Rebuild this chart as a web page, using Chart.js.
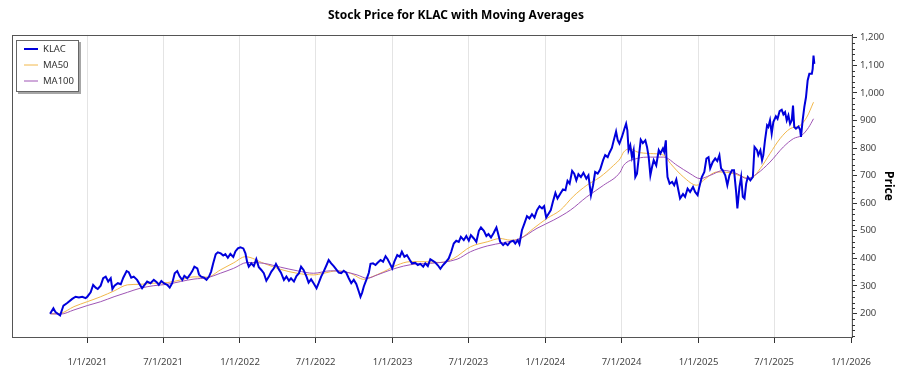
<!DOCTYPE html>
<html>
  <head>
    <meta charset="utf-8">
    <script src="https://cdn.jsdelivr.net/npm/chart.js@4.4.1/dist/chart.umd.min.js"></script>
  </head>

  <style>
    html, body {
        margin: 0;
        padding: 0;
        background: white;
    }
    #chart-box {
        width: 900px;
        height: 375px;
    }
  </style>

  <body>
    <div id="chart-box"><canvas id="klac-chart" width="900" height="375"></canvas></div>

<script>

  // KLAC close (roughly weekly)
  const klacDates = [
      "2020-10-04","2020-10-12","2020-10-17","2020-10-28","2020-11-05","2020-11-14","2020-11-26","2020-12-04","2020-12-12","2020-12-20","2020-12-28",
      "2021-01-01","2021-01-09","2021-01-15","2021-01-21","2021-01-26","2021-02-02","2021-02-08","2021-02-14","2021-02-20","2021-02-26",
      "2021-03-02","2021-03-07","2021-03-15","2021-03-22","2021-03-28","2021-04-05","2021-04-10","2021-04-16","2021-04-22","2021-04-30",
      "2021-05-07","2021-05-12","2021-05-18","2021-05-24","2021-06-01","2021-06-09","2021-06-16","2021-06-21","2021-06-27","2021-07-03",
      "2021-07-11","2021-07-17","2021-07-23","2021-07-29","2021-08-04","2021-08-10","2021-08-16","2021-08-21","2021-08-28","2021-09-03",
      "2021-09-09","2021-09-14","2021-09-21","2021-09-25","2021-09-30","2021-10-07","2021-10-13","2021-10-19","2021-10-24","2021-10-29",
      "2021-11-04","2021-11-09","2021-11-16","2021-11-22","2021-11-27","2021-12-03","2021-12-09","2021-12-16","2021-12-21","2021-12-27",
      "2022-01-02","2022-01-09","2022-01-14","2022-01-18","2022-01-22","2022-01-28","2022-02-03","2022-02-09","2022-02-15","2022-02-21",
      "2022-02-27","2022-03-05","2022-03-11","2022-03-17","2022-03-23","2022-03-28","2022-04-04","2022-04-09","2022-04-16","2022-04-22",
      "2022-04-28","2022-05-03","2022-05-10","2022-05-16","2022-05-22","2022-05-27","2022-06-02","2022-06-09","2022-06-14","2022-06-20",
      "2022-06-26","2022-07-03","2022-07-08","2022-07-14","2022-07-20","2022-07-27","2022-08-01","2022-08-07","2022-08-13","2022-08-20",
      "2022-08-25","2022-08-31","2022-09-06","2022-09-12","2022-09-18","2022-09-24","2022-09-30","2022-10-06","2022-10-12","2022-10-16",
      "2022-10-20","2022-10-24","2022-10-30","2022-11-05","2022-11-09","2022-11-15","2022-11-21","2022-11-26","2022-12-03","2022-12-09",
      "2022-12-15","2022-12-20","2022-12-25","2022-12-31","2023-01-05","2023-01-12","2023-01-18","2023-01-23","2023-01-29","2023-02-04",
      "2023-02-11","2023-02-16","2023-02-24","2023-03-02","2023-03-08","2023-03-15","2023-03-20","2023-03-26","2023-04-01","2023-04-08",
      "2023-04-13","2023-04-19","2023-04-25","2023-05-01","2023-05-07","2023-05-15","2023-05-21","2023-05-27","2023-06-02","2023-06-08",
      "2023-06-13","2023-06-20","2023-06-26","2023-07-02","2023-07-07","2023-07-14","2023-07-20","2023-07-26","2023-07-31","2023-08-07",
      "2023-08-13","2023-08-18","2023-08-24","2023-08-30","2023-09-06","2023-09-09","2023-09-15","2023-09-22","2023-09-27","2023-10-03",
      "2023-10-09","2023-10-16","2023-10-21","2023-10-27","2023-10-31","2023-11-06","2023-11-12","2023-11-18","2023-11-24","2023-11-30",
      "2023-12-06","2023-12-12","2023-12-18","2023-12-24","2023-12-29","2024-01-03","2024-01-09","2024-01-14","2024-01-19","2024-01-25",
      "2024-01-30","2024-02-06","2024-02-12","2024-02-18","2024-02-23","2024-02-28","2024-03-05","2024-03-10","2024-03-15","2024-03-20",
      "2024-03-26","2024-04-01","2024-04-08","2024-04-13","2024-04-19","2024-04-24","2024-04-29","2024-05-05","2024-05-11","2024-05-18",
      "2024-05-23","2024-05-29","2024-06-02","2024-06-08","2024-06-12","2024-06-18","2024-06-22","2024-06-26","2024-07-02","2024-07-08",
      "2024-07-12","2024-07-15","2024-07-18","2024-07-22","2024-07-26","2024-07-30","2024-08-03","2024-08-07","2024-08-11","2024-08-16",
      "2024-08-21","2024-08-27","2024-08-31","2024-09-04","2024-09-08","2024-09-12","2024-09-16","2024-09-22","2024-09-28","2024-10-02",
      "2024-10-08","2024-10-11","2024-10-15","2024-10-17","2024-10-19","2024-10-24","2024-10-30","2024-11-04","2024-11-09","2024-11-14",
      "2024-11-18","2024-11-25","2024-11-30","2024-12-06","2024-12-12","2024-12-19","2024-12-24","2024-12-30","2025-01-03","2025-01-09",
      "2025-01-15","2025-01-20","2025-01-25","2025-01-29","2025-02-04","2025-02-10","2025-02-15","2025-02-20","2025-02-24","2025-02-28",
      "2025-03-06","2025-03-11","2025-03-16","2025-03-22","2025-03-27","2025-04-01","2025-04-04","2025-04-09","2025-04-13","2025-04-17",
      "2025-04-21","2025-04-25","2025-04-29","2025-05-05","2025-05-11","2025-05-15","2025-05-21","2025-05-24","2025-05-29","2025-06-02",
      "2025-06-05","2025-06-09","2025-06-14","2025-06-17","2025-06-21","2025-06-25","2025-06-29","2025-07-05","2025-07-09","2025-07-14",
      "2025-07-19","2025-07-23","2025-07-27","2025-07-31","2025-08-04","2025-08-08","2025-08-12","2025-08-15","2025-08-18","2025-08-22",
      "2025-08-28","2025-09-01","2025-09-03","2025-09-07","2025-09-11","2025-09-15","2025-09-19","2025-09-23","2025-09-29","2025-10-01",
      "2025-10-03","2025-10-05"
  ];
  const klacValues = [
      199,219,205,193,229,238,253,261,258,261,256,
      261,277,304,294,289,301,328,334,316,328,
      289,301,310,306,330,354,350,330,334,322,
      304,292,304,316,310,322,314,304,318,310,
      304,294,310,346,354,334,322,337,328,340,
      354,370,364,342,334,330,322,334,352,382,
      415,422,418,410,415,402,416,405,425,436,
      440,436,418,388,370,382,372,397,368,358,
      346,319,334,352,364,380,360,348,322,334,
      319,328,316,336,346,370,358,334,312,324,
      310,292,310,334,352,376,394,382,372,358,
      348,346,355,348,328,310,322,307,280,261,
      276,298,322,348,380,382,376,384,394,388,
      408,397,382,364,388,412,406,424,406,412,
      394,382,384,376,380,370,382,372,397,390,
      385,375,362,375,385,400,424,454,464,460,
      478,466,481,464,484,472,460,500,512,500,
      481,488,476,491,512,496,460,448,456,448,
      460,464,454,466,452,502,527,553,545,560,
      548,575,589,581,589,548,563,575,605,637,
      617,635,650,647,681,671,717,707,683,705,
      695,710,689,701,629,665,713,707,722,756,
      774,767,782,800,825,860,828,816,840,870,
      888,864,792,810,767,792,695,707,762,830,
      818,828,804,767,701,731,756,737,792,780,
      798,786,828,740,695,671,677,665,686,647,
      617,633,623,653,641,659,641,629,659,695,
      713,762,767,726,749,762,753,774,726,719,
      701,665,701,719,719,641,581,659,695,623,
      617,671,695,683,695,804,792,774,792,756,
      774,828,882,876,900,852,894,915,906,934,
      939,922,930,900,918,888,900,954,876,870,
      878,866,840,900,948,984,1045,1069,1069,1087,
      1135,1105
  ];

  const ma50Dates = [
      "2020-10-05","2020-10-29","2020-11-30","2021-01-01","2021-02-02","2021-03-06","2021-04-07","2021-05-08","2021-06-09","2021-07-11",
      "2021-08-12","2021-09-13","2021-10-15","2021-11-15","2021-12-17","2022-01-14","2022-02-27","2022-04-08","2022-05-18","2022-06-26",
      "2022-07-20","2022-08-21","2022-09-22","2022-10-24","2022-11-09","2022-12-11","2023-01-12","2023-02-12","2023-03-17","2023-04-25",
      "2023-05-27","2023-07-06","2023-08-15","2023-09-15","2023-10-09","2023-11-02","2023-12-04","2024-01-05","2024-02-06","2024-03-08",
      "2024-04-09","2024-05-11","2024-06-12","2024-06-28","2024-07-06","2024-07-22","2024-08-07","2024-09-08","2024-10-10","2024-10-26",
      "2024-11-26","2024-12-28","2025-01-13","2025-02-14","2025-03-18","2025-04-19","2025-05-05","2025-05-29","2025-06-21","2025-07-15",
      "2025-08-08","2025-09-01","2025-09-17","2025-10-03"
  ];
  const ma50Values = [
      199,201,225,243,261,282,304,306,310,312,
      322,333,332,358,384,406,382,360,346,340,
      346,355,346,324,331,352,376,388,388,385,
      400,442,460,472,466,472,509,545,575,625,
      665,695,737,762,785,798,786,780,774,744,
      695,665,683,713,710,695,689,726,780,834,
      870,882,912,966
  ];

  const ma100Dates = [
      "2020-10-05","2020-10-29","2020-11-30","2021-01-01","2021-02-02","2021-03-06","2021-04-07","2021-05-08","2021-06-09","2021-07-11",
      "2021-08-12","2021-09-13","2021-10-15","2021-11-15","2021-12-17","2022-01-18","2022-02-27","2022-04-08","2022-05-18","2022-06-26",
      "2022-08-05","2022-09-06","2022-10-08","2022-11-01","2022-11-25","2022-12-27","2023-01-27","2023-02-28","2023-04-01","2023-06-04",
      "2023-07-06","2023-08-15","2023-09-23","2023-11-02","2023-12-12","2024-01-21","2024-03-01","2024-04-09","2024-05-19","2024-06-28",
      "2024-07-06","2024-08-07","2024-09-08","2024-10-10","2024-11-11","2024-12-12","2025-01-05","2025-01-29","2025-03-02","2025-04-03",
      "2025-04-27","2025-05-21","2025-06-21","2025-07-23","2025-08-16","2025-09-05","2025-09-21","2025-10-03"
  ];
  const ma100Values = [
      199,198,213,229,243,261,277,292,301,306,
      316,325,330,346,364,385,382,368,355,346,
      355,352,340,328,340,358,372,380,382,397,
      424,445,457,472,509,539,575,623,665,713,
      737,762,767,767,737,707,689,701,719,707,
      689,707,749,804,834,846,874,906
  ];

  const xTickDates = ["2021-01-01","2021-07-01","2022-01-01","2022-07-01","2023-01-01","2023-07-01",
                      "2024-01-01","2024-07-01","2025-01-01","2025-07-01","2026-01-01"];
  const xTickLabels = ["1/1/2021","7/1/2021","1/1/2022","7/1/2022","1/1/2023","7/1/2023",
                       "1/1/2024","7/1/2024","1/1/2025","7/1/2025","1/1/2026"];
  const yTickValues = [200, 300, 400, 500, 600, 700, 800, 900, 1000, 1100, 1200];

  const seriesNames = ["KLAC", "MA50", "MA100"];
  const seriesColors = ["#0000dc", "#f2b84b", "#9f55b5"];
  const seriesWidths = [2, 1, 1];

  const FONT = '"Segoe UI", "Noto Sans", sans-serif';

  function toTime(s) {
      return Date.parse(s + "T00:00:00Z");
  }

  function toPoints(dates, values) {
      return dates.map((d, i) => ({ x: toTime(d), y: values[i] }));
  }

  //white background, frame round the plot, minor ticks and the boxed legend
  const extras = {
      id: 'extras',
      beforeDraw(chart) {
          const ctx = chart.ctx;
          ctx.save();
          ctx.fillStyle = 'white';
          ctx.fillRect(0, 0, chart.width, chart.height);
          ctx.restore();
      },
      afterDraw(chart) {
          const ctx = chart.ctx;
          const a = chart.chartArea;
          const yScale = chart.scales.y;
          ctx.save();

          ctx.strokeStyle = '#555';
          ctx.lineWidth = 1;
          ctx.strokeRect(Math.round(a.left) + 0.5, Math.round(a.top) + 0.5,
                         Math.round(a.right - a.left), Math.round(a.bottom - a.top));

          // minor ticks on the price axis
          ctx.strokeStyle = '#333';
          ctx.beginPath();
          for (let v = 120; v <= 1200; v += 20) {
              if (v % 100 == 0) continue;
              const py = Math.round(yScale.getPixelForValue(v)) + 0.5;
              ctx.moveTo(a.right, py);
              ctx.lineTo(a.right + 3, py);
          }
          ctx.stroke();

          // legend box
          const lx = a.left + 4, ly = 40, lw = 63, lh = 52;
          ctx.fillStyle = 'rgba(0,0,0,0.35)';
          ctx.fillRect(lx + 2, ly + 2, lw, lh);
          ctx.fillStyle = 'white';
          ctx.fillRect(lx, ly, lw, lh);
          ctx.strokeStyle = '#666';
          ctx.strokeRect(lx + 0.5, ly + 0.5, lw - 1, lh - 1);

          ctx.font = '9.5px ' + FONT;
          ctx.textBaseline = 'middle';
          for (let i = 0; i < seriesNames.length; i++) {
              const ry = ly + 9 + i * 16;
              ctx.strokeStyle = seriesColors[i];
              ctx.lineWidth = seriesWidths[i];
              ctx.beginPath();
              ctx.moveTo(lx + 8, ry);
              ctx.lineTo(lx + 22, ry);
              ctx.stroke();
              ctx.fillStyle = '#333';
              ctx.fillText(seriesNames[i], lx + 27, ry);
          }
          ctx.restore();
      }
  };

  Chart.defaults.font.family = FONT;

  const datasets = [
      toPoints(klacDates, klacValues),
      toPoints(ma50Dates, ma50Values),
      toPoints(ma100Dates, ma100Values)
  ].map((pts, i) => ({
      label: seriesNames[i],
      data: pts,
      borderColor: seriesColors[i],
      borderWidth: seriesWidths[i],
      pointRadius: 0,
      fill: false,
      tension: i == 0 ? 0 : 0.4,
      cubicInterpolationMode: i == 0 ? 'default' : 'monotone'
  }));
  // draw KLAC on top
  datasets[0].order = 0;
  datasets[1].order = 2;
  datasets[2].order = 1;

  new Chart(document.getElementById('klac-chart'), {
      type: 'line',
      data: { datasets: datasets },
      plugins: [extras],
      options: {
          responsive: false,
          animation: false,
          layout: { padding: { left: 12, right: 0, top: 0, bottom: 0 } },
          plugins: {
              legend: { display: false },
              tooltip: { enabled: false },
              title: {
                  display: true,
                  text: 'Stock Price for KLAC with Moving Averages',
                  color: '#000',
                  font: { size: 12, weight: 'bold' },
                  padding: { top: 8, bottom: 12.5 }
              }
          },
          scales: {
              x: {
                  type: 'linear',
                  min: toTime('2020-07-05'),
                  max: toTime('2026-01-03'),
                  afterBuildTicks: scale => {
                      scale.ticks = xTickDates.map(d => ({ value: toTime(d) }));
                  },
                  afterFit: scale => { scale.height = 38; },
                  ticks: {
                      autoSkip: false,
                      maxRotation: 0,
                      padding: 14,
                      color: '#444',
                      font: { size: 9.5 },
                      callback: (v, i) => xTickLabels[i]
                  },
                  grid: { color: '#e4e4e4', tickColor: '#333', tickLength: 6 },
                  border: { color: '#333' }
              },
              y: {
                  position: 'right',
                  min: 115,
                  max: 1210,
                  afterBuildTicks: scale => {
                      scale.ticks = yTickValues.map(v => ({ value: v }));
                  },
                  afterFit: scale => { scale.width = 48; },
                  ticks: {
                      padding: 3,
                      color: '#444',
                      font: { size: 9.5 },
                      callback: v => v.toLocaleString('en-US')
                  },
                  grid: { drawOnChartArea: false, tickColor: '#333', tickLength: 5 },
                  border: { color: '#333' },
                  title: {
                      display: true,
                      text: 'Price',
                      color: '#000',
                      font: { size: 12, weight: 'bold' },
                      padding: { top: 4, bottom: 4 }
                  }
              }
          }
      }
  });

</script>

</body>
</html>
